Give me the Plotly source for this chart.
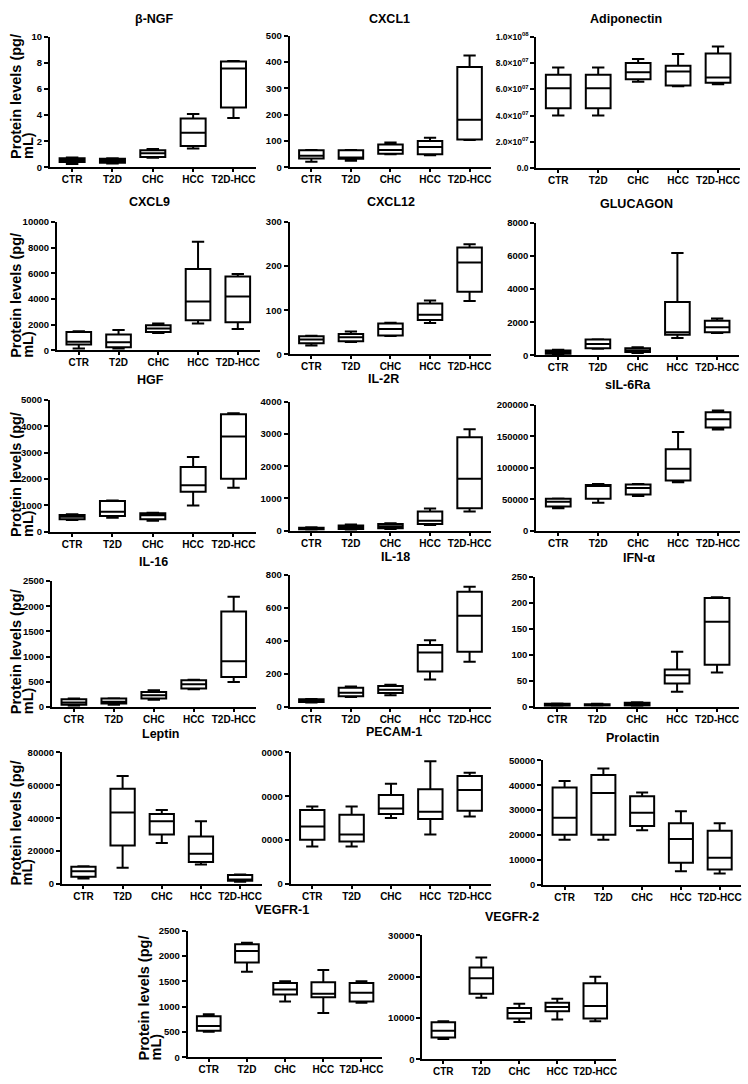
import plotly.graph_objects as go

CATS = ["CTR", "T2D", "CHC", "HCC", "T2D-HCC"]

# five-number summaries: lower whisker, q1, median, q3, upper whisker
ngf_lo = [0.25, 0.3, 0.73, 1.44, 3.78]
ngf_q1 = [0.4, 0.35, 0.8, 1.64, 4.58]
ngf_md = [0.55, 0.5, 1.08, 2.64, 7.56]
ngf_q3 = [0.7, 0.65, 1.3, 3.73, 8.1]
ngf_hi = [0.75, 0.7, 1.4, 4.08, 8.14]

cxcl1_lo = [21, 25, 50, 46, 104]
cxcl1_q1 = [34, 33, 52, 50, 106]
cxcl1_md = [44, 37, 66, 77, 181]
cxcl1_q3 = [65, 65, 87, 100, 381]
cxcl1_hi = [66, 66, 94, 112, 425]

adipo_lo = [40.1e6, 40.1e6, 65.8e6, 62.3e6, 63.8e6]
adipo_q1 = [45.6e6, 45.6e6, 67.6e6, 63.0e6, 65.0e6]
adipo_md = [60.8e6, 60.8e6, 73.0e6, 73.6e6, 69.0e6]
adipo_q3 = [71.0e6, 71.0e6, 80.0e6, 78.0e6, 87.3e6]
adipo_hi = [76.6e6, 76.6e6, 83.0e6, 86.8e6, 92.5e6]

cxcl9_lo = [155, 155, 1366, 2088, 1675]
cxcl9_q1 = [464, 258, 1443, 2345, 2190]
cxcl9_md = [670, 644, 1700, 3814, 4200]
cxcl9_q3 = [1443, 1237, 1960, 6340, 5747]
cxcl9_hi = [1495, 1600, 2088, 8450, 5950]

cxcl12_lo = [20, 28, 41.8, 70.9, 121]
cxcl12_q1 = [25.4, 29.9, 43, 77.6, 142]
cxcl12_md = [33.6, 38.8, 57.5, 89.6, 208]
cxcl12_q3 = [41, 46, 70, 115, 242]
cxcl12_hi = [42.5, 52, 71.6, 122, 249]

gluc_lo = [30, 398, 139, 1055, 1353]
gluc_q1 = [100, 438, 199, 1254, 1393]
gluc_md = [199, 696, 298, 1393, 1692]
gluc_q3 = [298, 955, 438, 3224, 2090]
gluc_hi = [338, 975, 497, 6170, 2229]

hgf_lo = [441, 529, 416, 995, 1662]
hgf_q1 = [466, 592, 466, 1511, 2003]
hgf_md = [567, 756, 617, 1763, 3615]
hgf_q3 = [630, 1159, 693, 2456, 4458]
hgf_hi = [655, 1184, 718, 2834, 4496]

il2r_lo = [20, 20, 51, 174, 595]
il2r_q1 = [31, 50, 72, 205, 697]
il2r_md = [62, 100, 133, 308, 1610]
il2r_q3 = [92, 160, 205, 595, 2903]
il2r_hi = [103, 190, 226, 687, 3149]

il6r_lo = [35600, 44500, 55000, 77000, 160700]
il6r_q1 = [38220, 50800, 57600, 79600, 164000]
il6r_md = [46070, 72000, 68000, 98400, 177000]
il6r_q3 = [50800, 72770, 73300, 129300, 188500]
il6r_hi = [51300, 74350, 74350, 157000, 191000]

il16_lo = [20, 39, 138, 349, 493]
il16_q1 = [39, 66, 164, 362, 592]
il16_md = [86, 99, 230, 447, 908]
il16_q3 = [151, 164, 296, 526, 1895]
il16_hi = [164, 171, 329, 539, 2191]

il18_lo = [26, 60, 70, 166, 274]
il18_q1 = [30, 64, 84, 214, 334]
il18_md = [38, 86, 104, 330, 554]
il18_q3 = [46, 116, 126, 376, 700]
il18_hi = [48, 124, 134, 404, 730]

ifn_lo = [0.6, 1.9, 1.3, 29, 66]
ifn_q1 = [1.9, 2.6, 2.6, 45, 81]
ifn_md = [3.8, 3.8, 5.1, 61, 164]
ifn_q3 = [5.8, 5.1, 7.7, 72, 210]
ifn_hi = [6.4, 5.8, 9.0, 106, 211]

lep_lo = [3410, 9820, 24860, 11830, 1400]
lep_q1 = [4410, 23460, 30080, 13430, 2000]
lep_md = [7820, 43510, 38100, 18450, 2800]
lep_q3 = [10430, 57940, 42500, 28870, 5410]
lep_hi = [10830, 65560, 44910, 38100, 5810]

pecam_lo = [8570, 8570, 15040, 11280, 15410]
pecam_q1 = [10075, 9700, 15940, 14810, 16690]
pecam_md = [13080, 11280, 17220, 16470, 21430]
pecam_q3 = [16840, 15790, 20300, 21580, 24590]
pecam_hi = [17670, 17670, 22860, 27970, 25340]

prl_lo = [18160, 18160, 21970, 5530, 4600]
prl_q1 = [20130, 20130, 23680, 8950, 6180]
prl_md = [26970, 36840, 28950, 18420, 10920]
prl_q3 = [39080, 44080, 35530, 24740, 21710]
prl_hi = [41700, 46700, 37100, 29600, 24740]

vegfr1_lo = [501, 1686, 1100, 872, 1074]
vegfr1_q1 = [521, 1868, 1237, 1185, 1100]
vegfr1_md = [618, 2096, 1335, 1250, 1270]
vegfr1_q3 = [807, 2227, 1465, 1478, 1465]
vegfr1_hi = [846, 2259, 1497, 1719, 1497]

vegfr2_lo = [4880, 14880, 9040, 9600, 9200]
vegfr2_q1 = [5280, 15840, 9840, 11600, 9840]
vegfr2_md = [6880, 19600, 11200, 12640, 12880]
vegfr2_q3 = [8960, 22240, 12400, 13680, 18400]
vegfr2_hi = [9200, 24640, 13440, 14640, 20000]

# y tick values / labels
ngf_ticks = [0, 2, 4, 6, 8, 10]
cxcl1_ticks = [0, 100, 200, 300, 400, 500]
adipo_ticks = [0, 2e7, 4e7, 6e7, 8e7, 1e8]
adipo_ticktext = ["0.0", "2.0×10<sup>07</sup>", "4.0×10<sup>07</sup>", "6.0×10<sup>07</sup>",
                  "8.0×10<sup>07</sup>", "1.0×10<sup>08</sup>"]
cxcl9_ticks = [0, 2000, 4000, 6000, 8000, 10000]
cxcl12_ticks = [0, 100, 200, 300]
gluc_ticks = [0, 2000, 4000, 6000, 8000]
hgf_ticks = [0, 1000, 2000, 3000, 4000, 5000]
il2r_ticks = [0, 1000, 2000, 3000, 4000]
il6r_ticks = [0, 50000, 100000, 150000, 200000]
il16_ticks = [0, 500, 1000, 1500, 2000, 2500]
il18_ticks = [0, 200, 400, 600, 800]
ifn_ticks = [0, 50, 100, 150, 200, 250]
lep_ticks = [0, 20000, 40000, 60000, 80000]
pecam_ticks = [0, 10000, 20000, 30000]
pecam_ticktext = ["0", "0000", "0000", "0000"]
prl_ticks = [0, 10000, 20000, 30000, 40000, 50000]
vegfr1_ticks = [0, 500, 1000, 1500, 2000, 2500]
vegfr2_ticks = [0, 10000, 20000, 30000]

TITLES = ["β-NGF", "CXCL1", "Adiponectin", "CXCL9", "CXCL12", "GLUCAGON", "HGF", "IL-2R",
          "sIL-6Ra", "IL-16", "IL-18", "IFN-α", "Leptin", "PECAM-1", "Prolactin",
          "VEGFR-1", "VEGFR-2"]
YLABEL_1 = "Protein levels (pg/"
YLABEL_2 = "mL)"

W, H = 748, 1084
FONT = "Liberation Sans, Arial, sans-serif"

# geometry in pixels: (x_left, x_right, y_top_tick, y_zero, title_x, title_y)
panels = [
    ((ngf_lo, ngf_q1, ngf_md, ngf_q3, ngf_hi), ngf_ticks, None, (50, 256, 31, 163, 155, 13)),
    ((cxcl1_lo, cxcl1_q1, cxcl1_md, cxcl1_q3, cxcl1_hi), cxcl1_ticks, None, (290, 492, 30, 163, 390, 13)),
    ((adipo_lo, adipo_q1, adipo_md, adipo_q3, adipo_hi), adipo_ticks, adipo_ticktext, (537, 741, 31, 164, 627, 13)),
    ((cxcl9_lo, cxcl9_q1, cxcl9_md, cxcl9_q3, cxcl9_hi), cxcl9_ticks, None, (57, 260, 218, 348, 150, 198)),
    ((cxcl12_lo, cxcl12_q1, cxcl12_md, cxcl12_q3, cxcl12_hi), cxcl12_ticks, None, (290, 492, 218, 352, 392, 198)),
    ((gluc_lo, gluc_q1, gluc_md, gluc_q3, gluc_hi), gluc_ticks, None, (537, 740, 219, 353, 637, 200)),
    ((hgf_lo, hgf_q1, hgf_md, hgf_q3, hgf_hi), hgf_ticks, None, (50, 256, 398, 531, 151, 378)),
    ((il2r_lo, il2r_q1, il2r_md, il2r_q3, il2r_hi), il2r_ticks, None, (290, 492, 400, 530, 384, 377)),
    ((il6r_lo, il6r_q1, il6r_md, il6r_q3, il6r_hi), il6r_ticks, None, (537, 741, 403, 530, 629, 383)),
    ((il16_lo, il16_q1, il16_md, il16_q3, il16_hi), il16_ticks, None, (52, 256, 581, 708, 154, 562)),
    ((il18_lo, il18_q1, il18_md, il18_q3, il18_hi), il18_ticks, None, (290, 492, 575, 708, 396, 557)),
    ((ifn_lo, ifn_q1, ifn_md, ifn_q3, ifn_hi), ifn_ticks, None, (536, 740, 577, 708, 640, 558)),
    ((lep_lo, lep_q1, lep_md, lep_q3, lep_hi), lep_ticks, None, (62, 262, 754, 887, 161, 735)),
    ((pecam_lo, pecam_q1, pecam_md, pecam_q3, pecam_hi), pecam_ticks, pecam_ticktext, (291, 492, 754, 887, 395, 733)),
    ((prl_lo, prl_q1, prl_md, prl_q3, prl_hi), prl_ticks, None, (544, 742, 762, 888, 634, 740)),
    ((vegfr1_lo, vegfr1_q1, vegfr1_md, vegfr1_q3, vegfr1_hi), vegfr1_ticks, None, (188, 383, 934, 1062, 282, 913)),
    ((vegfr2_lo, vegfr2_q1, vegfr2_md, vegfr2_q3, vegfr2_hi), vegfr2_ticks, None, (423, 617, 939, 1064, 513, 920)),
]

# y-label placement: (x of line 1, x of line 2, bottom y) in pixels
ylabels = [(16, 28, 156), (16, 28, 357), (16, 28, 538), (16, 28, 717), (16, 28, 890), (144, 156, 1067)]


def px(x):
    return x / W


def py(y):
    return 1 - y / H


fig = go.Figure()
layout = dict(width=W, height=H, margin=dict(l=0, r=0, t=0, b=0),
              paper_bgcolor="white", plot_bgcolor="white", showlegend=False,
              font=dict(family=FONT, color="black"))
annotations = []

for i, (stats, ticks, ticktext, geom) in enumerate(panels):
    lo, q1, md, q3, hi = stats
    xl, xr, yt, yb, tx, ty = geom
    n = i + 1
    xa = "x" if n == 1 else f"x{n}"
    ya = "y" if n == 1 else f"y{n}"
    fig.add_trace(go.Box(
        x=CATS, lowerfence=lo, q1=q1, median=md, q3=q3, upperfence=hi,
        xaxis=xa, yaxis=ya, fillcolor="white",
        line=dict(color="black", width=2), whiskerwidth=0.5, width=0.62,
        boxpoints=False, hoverinfo="skip", showlegend=False))
    xkey = "xaxis" if n == 1 else f"xaxis{n}"
    ykey = "yaxis" if n == 1 else f"yaxis{n}"
    layout[xkey] = dict(domain=[px(xl), px(xr)], anchor=ya, type="category",
                        categoryorder="array", categoryarray=CATS,
                        range=[-0.55, 4.55], showline=True, linewidth=2, linecolor="black",
                        ticks="outside", ticklen=3, tickwidth=1.5, tickcolor="black",
                        ticklabelstandoff=-1,
                        showgrid=False, zeroline=False, fixedrange=True,
                        tickfont=dict(family=FONT, size=10, color="black", weight="bold"))
    yd = dict(domain=[py(yb), py(yt)], anchor=xa, range=[0, ticks[-1]],
              tickmode="array", tickvals=ticks,
              showline=True, linewidth=2, linecolor="black",
              ticks="outside", ticklen=4, tickwidth=1.5, tickcolor="black",
              showgrid=False, zeroline=False, fixedrange=True, tickformat="d",
              tickfont=dict(family=FONT, size=9.5, color="black", weight="bold"))
    if ticktext is not None:
        yd["ticktext"] = ticktext
        if n == 3:
            yd["tickfont"] = dict(family=FONT, size=8.5, color="black", weight="bold")
    layout[ykey] = yd
    annotations.append(dict(text=TITLES[i], x=px(tx), y=py(ty), xref="paper", yref="paper",
                            xanchor="center", yanchor="middle", showarrow=False,
                            font=dict(family=FONT, size=12.5, color="black", weight="bold")))

for (x1, x2, yb) in ylabels:
    for txt, xx in ((YLABEL_1, x1), (YLABEL_2, x2)):
        annotations.append(dict(text=txt, x=px(xx), y=py(yb), xref="paper", yref="paper",
                                xanchor="center", yanchor="bottom", textangle=-90,
                                showarrow=False,
                                font=dict(family=FONT, size=14.5, color="black", weight="bold")))

layout["annotations"] = annotations
fig.update_layout(**layout)
fig.write_html("out.html", config={"displayModeBar": False},
               post_script="document.body.style.margin='0';document.body.style.overflow='hidden';")
